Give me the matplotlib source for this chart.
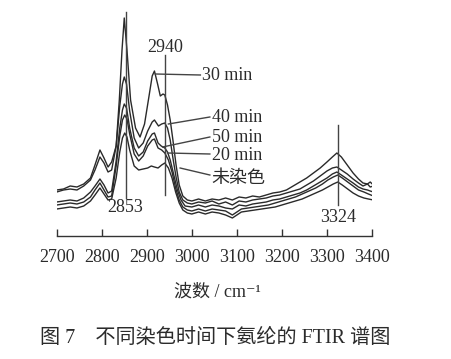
import matplotlib
matplotlib.use("Agg")
import matplotlib.pyplot as plt

plt.rcParams['font.family'] = ['Liberation Serif', 'Noto Sans CJK SC', 'DejaVu Serif']

# Absorbance (arbitrary units)
wn_30 = [2700, 2715, 2730, 2745, 2760, 2775, 2785, 2796, 2805, 2814, 2822, 2832, 2839, 2845, 2850,
         2856, 2864, 2875, 2885, 2895, 2905, 2912, 2917, 2924, 2930, 2936, 2940, 2946, 2952,
         2958, 2965, 2972, 2980, 2990, 3000, 3015, 3030, 3045, 3060, 3075, 3090, 3105, 3120, 3135,
         3150, 3165, 3180, 3195, 3210, 3225, 3240, 3255, 3270, 3285, 3300, 3312, 3322, 3332, 3345,
         3358, 3370, 3380, 3390, 3396, 3403]
a_30 = [46, 47, 50, 49, 52, 58, 71, 86, 78, 69, 74, 90, 136, 186, 218,
        186, 136, 108, 99, 112, 140, 160, 165, 152, 140, 142, 141, 131, 116,
        96, 71, 51, 40, 36, 35, 37, 35, 37, 36, 38, 36, 39, 38, 40,
        39, 41, 43, 44, 46, 50, 54, 58, 63, 68, 74, 79, 83, 79, 71,
        63, 57, 53, 52, 54, 51]

wn_40 = [2700, 2715, 2730, 2745, 2760, 2775, 2785, 2796, 2805, 2814, 2822, 2832, 2840, 2846, 2850,
         2855, 2862, 2872, 2882, 2892, 2902, 2912, 2917, 2926, 2933, 2940, 2946, 2952, 2958, 2965,
         2972, 2980, 2990, 3000, 3015, 3030, 3045, 3060, 3075, 3090, 3105, 3120, 3135, 3150, 3165,
         3180, 3195, 3210, 3225, 3240, 3255, 3270, 3285, 3300, 3312, 3322, 3332, 3345, 3358, 3370,
         3380, 3390, 3396, 3403]
a_40 = [44, 46, 47, 46, 50, 56, 66, 79, 73, 64, 66, 90, 130, 152, 159,
        152, 125, 98, 88, 93, 105, 114, 116, 110, 112, 113, 108, 96, 78, 59,
        44, 36, 33, 32, 34, 33, 35, 32, 34, 31, 35, 34, 36, 37, 38,
        40, 41, 43, 45, 47, 51, 55, 60, 65, 68, 69, 66, 62, 57, 53,
        50, 52, 49, 50]

wn_50 = [2700, 2715, 2730, 2745, 2760, 2775, 2785, 2796, 2805, 2814, 2822, 2832, 2840, 2846, 2850,
         2855, 2862, 2872, 2882, 2892, 2902, 2912, 2917, 2925, 2932, 2940, 2946, 2952, 2960, 2968,
         2976, 2985, 3000, 3015, 3030, 3045, 3060, 3075, 3090, 3105, 3120, 3135, 3150, 3165, 3180,
         3195, 3210, 3225, 3240, 3255, 3270, 3285, 3300, 3312, 3322, 3332, 3345, 3358, 3370, 3380,
         3390, 3396, 3403]
a_50 = [34, 35, 36, 35, 38, 44, 50, 57, 51, 43, 45, 75, 108, 126, 132,
        128, 108, 88, 80, 84, 95, 102, 103, 93, 90, 88, 84, 76, 61, 46,
        36, 30, 29, 31, 29, 31, 30, 28, 27, 31, 30, 32, 33, 34, 36,
        37, 39, 41, 43, 46, 50, 54, 58, 62, 64, 61, 57, 53, 49, 47,
        46, 45, 44]

wn_20 = [2700, 2715, 2730, 2745, 2760, 2775, 2785, 2796, 2805, 2814, 2822, 2832, 2840, 2846, 2851,
         2856, 2862, 2872, 2882, 2892, 2902, 2912, 2917, 2925, 2933, 2940, 2948, 2956, 2964, 2972,
         2980, 2990, 3000, 3015, 3030, 3045, 3060, 3075, 3090, 3100, 3110, 3125, 3140, 3155, 3170,
         3185, 3200, 3215, 3230, 3245, 3260, 3275, 3290, 3302, 3314, 3324, 3334, 3346, 3358, 3370,
         3382, 3392, 3403]
a_20 = [31, 32, 33, 32, 34, 39, 46, 53, 46, 39, 40, 70, 100, 116, 121,
        117, 102, 82, 75, 80, 90, 96, 97, 88, 86, 83, 76, 64, 48, 36,
        29, 26, 25, 27, 25, 27, 26, 25, 21, 24, 27, 28, 29, 30, 31,
        33, 35, 37, 39, 42, 45, 48, 52, 56, 59, 61, 58, 54, 50, 46,
        44, 42, 40]

wn_0 = [2700, 2715, 2730, 2745, 2760, 2775, 2785, 2796, 2805, 2814, 2822, 2832, 2840, 2846, 2851,
        2856, 2862, 2872, 2882, 2892, 2902, 2910, 2917, 2925, 2933, 2940, 2948, 2956, 2964, 2972,
        2980, 2990, 3000, 3015, 3030, 3045, 3060, 3075, 3090, 3100, 3110, 3125, 3140, 3155, 3170,
        3185, 3200, 3215, 3230, 3245, 3260, 3275, 3290, 3302, 3314, 3324, 3334, 3346, 3358, 3370,
        3382, 3392, 3403]
a_0 = [27, 28, 29, 28, 30, 35, 41, 48, 42, 36, 37, 58, 84, 98, 103,
       99, 86, 70, 66, 67, 68, 70, 69, 68, 71, 73, 68, 58, 44, 33,
       26, 23, 22, 24, 22, 24, 23, 21, 18, 21, 24, 25, 26, 27, 28,
       29, 31, 33, 35, 37, 40, 43, 46, 49, 52, 54, 51, 47, 43, 40,
       38, 37, 36]

series = [(wn_30, a_30), (wn_40, a_40), (wn_50, a_50), (wn_20, a_20), (wn_0, a_0)]
series_labels = ["30 min", "40 min", "50 min", "20 min", "未染色"]
xticks = [2700, 2800, 2900, 3000, 3100, 3200, 3300, 3400]
peak_labels = ["2853", "2940", "3324"]

W, H = 451, 359
fig = plt.figure(figsize=(W / 100, H / 100), dpi=100)
ax = fig.add_axes([56.7 / W, (H - 236) / H, (372 - 56.7) / W, 236 / H])
ax.set_xlim(2700, 3400)
ax.set_ylim(0, 236)

for wn, a in series:
    ax.plot(wn, a, color="#2a2a2a", lw=1.0, solid_joinstyle="round")

# peak marker lines
lc = "#444444"
ax.plot([2853, 2853], [38, 224], color=lc, lw=1.0)
ax.plot([2940, 2940], [41, 181], color=lc, lw=1.0)
ax.plot([3324, 3324], [31, 111], color=lc, lw=1.0)
tc = "#2b2b2b"
fs = 13
ax.text(2853, 28, peak_labels[0], ha="center", va="center", fontsize=fs, color=tc)
ax.text(2940, 189, peak_labels[1], ha="center", va="center", fontsize=fs, color=tc)
ax.text(3324, 19, peak_labels[2], ha="center", va="center", fontsize=fs, color=tc)

# curve labels with leader lines
leaders = [
    ((2919, 162), (3019, 161), (3023, 161)),
    ((2948, 112), (3040, 119), (3044, 118)),
    ((2935, 89), (3040, 99), (3044, 99)),
    ((2946, 83), (3040, 82), (3044, 81)),
    ((2974, 68), (3040, 61), (3044, 57)),
]
for lab, (p0, p1, pt) in zip(series_labels, leaders):
    ax.plot([p0[0], p1[0]], [p0[1], p1[1]], color=lc, lw=1.0)
    ax.text(pt[0], pt[1], lab, ha="left", va="center", fontsize=fs, color=tc)

for s in ["left", "right", "top"]:
    ax.spines[s].set_visible(False)
ax.spines["bottom"].set_color("#333333")
ax.spines["bottom"].set_linewidth(1.0)
ax.set_yticks([])
ax.set_xticks(xticks)
ax.set_xticklabels([str(t) for t in xticks])
ax.tick_params(axis="x", direction="in", length=5, width=1.0, color="#333333",
               labelsize=fs, labelcolor=tc, pad=9)

fig.text(217 / W, 1 - 292 / H, "波数 / cm⁻¹", ha="center", va="center", fontsize=fs, color=tc)
fig.text(215 / W, 1 - 338 / H, "图 7　不同染色时间下氨纶的 FTIR 谱图", ha="center", va="center",
         fontsize=14.5, color=tc)

fig.savefig("out.png", dpi=100)
